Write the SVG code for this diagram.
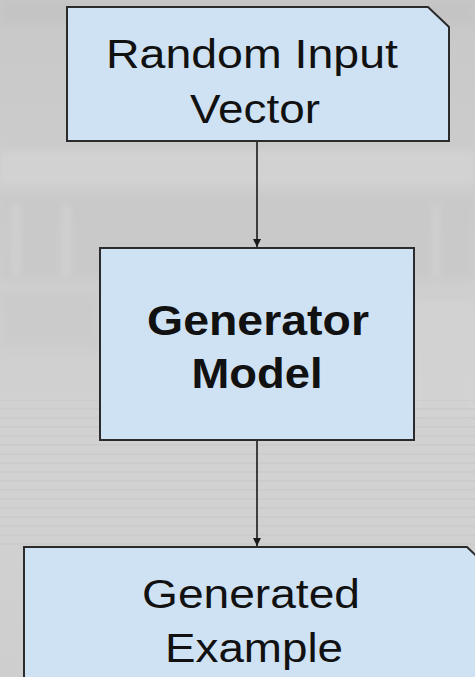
<svg xmlns="http://www.w3.org/2000/svg" width="475" height="677" viewBox="0 0 475 677">
  <defs>
    <linearGradient id="bg" x1="0" y1="0" x2="0" y2="1">
      <stop offset="0" stop-color="#c8c8c8"/>
      <stop offset="0.3" stop-color="#cdcdcd"/>
      <stop offset="0.7" stop-color="#d2d2d2"/>
      <stop offset="1" stop-color="#cecece"/>
    </linearGradient>
    <pattern id="steps" width="475" height="9" patternUnits="userSpaceOnUse">
      <line x1="0" y1="4" x2="475" y2="4" stroke="#c6c6c6" stroke-width="1.5"/>
    </pattern>
    <marker id="arrow" viewBox="0 0 10 10" refX="10" refY="5" markerWidth="8" markerHeight="8" markerUnits="userSpaceOnUse" orient="auto">
      <path d="M0,0 L10,5 L0,10 Z" fill="#1a1a1a"/>
    </marker>
    <filter id="soft" x="-5%" y="-5%" width="110%" height="110%">
      <feGaussianBlur stdDeviation="3"/>
    </filter>
  </defs>
  <style>
    .box { fill: #cfe2f3; stroke: #2b2b2b; stroke-width: 2; }
    .label { font-family: "Liberation Sans", Arial, sans-serif; font-size: 41px; fill: #111; text-anchor: middle; }
    .bold { font-weight: bold; font-size: 42px; }
    .edge { stroke: #1a1a1a; stroke-width: 1.6; fill: none; marker-end: url(#arrow); }
  </style>

  <!-- faded stadium backdrop -->
  <g id="backdrop">
    <rect width="475" height="677" fill="url(#bg)"/>
    <g filter="url(#soft)" opacity="0.6">
      <rect x="0" y="0" width="475" height="25" fill="#c2c2c2"/>
      <rect x="0" y="150" width="475" height="35" fill="#d6d6d6"/>
      <rect x="0" y="195" width="475" height="85" fill="#c7c7c7"/>
      <rect x="12" y="205" width="8" height="70" fill="#d4d4d4"/>
      <rect x="62" y="205" width="8" height="70" fill="#d4d4d4"/>
      <rect x="432" y="205" width="8" height="70" fill="#d2d2d2"/>
      <rect x="0" y="290" width="100" height="60" fill="#cacaca"/>
      <rect x="414" y="300" width="61" height="120" fill="#d4d4d4"/>
    </g>
    <rect x="0" y="400" width="475" height="145" fill="url(#steps)" opacity="0.6"/>
  </g>

  <!-- connectors -->
  <g id="connectors">
    <line class="edge" x1="257" y1="141" x2="257" y2="247"/>
    <line class="edge" x1="257" y1="440" x2="257" y2="546"/>
  </g>

  <g id="random-input-vector">
    <path class="box" d="M67,7 H428 L449,27 V141 H67 Z"/>
    <text class="label" x="252" y="68" textLength="292" lengthAdjust="spacingAndGlyphs">Random Input</text>
    <text class="label" x="255" y="123" textLength="130" lengthAdjust="spacingAndGlyphs">Vector</text>
  </g>

  <g id="generator-model">
    <rect class="box" x="100" y="248" width="314" height="192"/>
    <text class="label bold" x="258" y="335" textLength="222" lengthAdjust="spacingAndGlyphs">Generator</text>
    <text class="label bold" x="257" y="388" textLength="131" lengthAdjust="spacingAndGlyphs">Model</text>
  </g>

  <g id="generated-example">
    <path class="box" d="M24,690 V547 H467 L488,567 V690 Z"/>
    <text class="label" x="251" y="608" textLength="218" lengthAdjust="spacingAndGlyphs">Generated</text>
    <text class="label" x="254" y="662" textLength="178" lengthAdjust="spacingAndGlyphs">Example</text>
  </g>
</svg>
